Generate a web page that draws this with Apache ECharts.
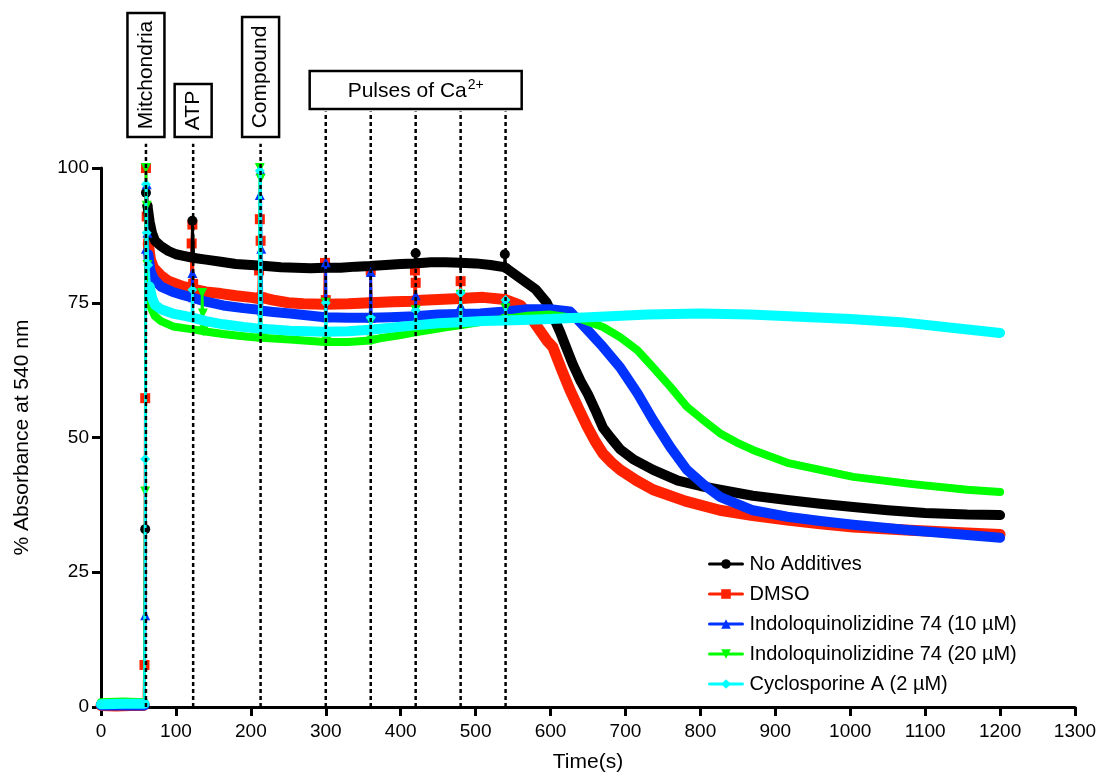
<!DOCTYPE html>
<html>
<head>
<meta charset="utf-8">
<script src="https://cdn.jsdelivr.net/npm/echarts@6/dist/echarts.min.js"></script>
<style>
html, body { margin: 0; padding: 0; background: #fff; }
#chart { width: 1098px; height: 776px; }
</style>
</head>
<body>
<div id="chart"></div>
<script>
//--------------------------------
// Data  ([time (s), % absorbance])
//--------------------------------
const noAdditives = [[0,0.5],[20,0.6],[40,0.5],[58,0.5],[59,33],[60,95.4],[61,96],[62,93],[65,90],[68,88],[72,86.5],[80,85.5],[90,84.6],[100,84],[110,83.7],[121,83.4],[122,90.2],[124,83.3],[140,83],[160,82.6],[180,82.2],[200,82],[220,81.8],[240,81.6],[260,81.5],[280,81.4],[299,81.5],[300,82.5],[301,81.5],[320,81.5],[340,81.7],[359,81.8],[360,81],[361,81.9],[380,82],[400,82.2],[419,82.3],[420,84.2],[421,82.4],[440,82.5],[460,82.5],[479,82.4],[480,81.1],[481,82.4],[500,82.3],[520,82],[538,81.6],[539,84],[541,81.4],[560,79.5],[580,77.5],[595,75],[605,72],[613,69.5],[620,67],[630,63.5],[640,60.5],[650,58],[660,55],[670,51.8],[680,50],[693,47.8],[710,46],[737,44],[770,42],[800,41],[826,40.3],[870,39.2],[916,38.4],[960,37.7],[1004,37.1],[1050,36.5],[1100,36],[1156,35.7],[1200,35.6]];

const dmso = [[0,0.3],[20,0.2],[40,0.3],[57,0.3],[58,7.8],[59,57.3],[60,100],[61,91],[63,86],[66,83],[70,81.5],[80,80],[90,79],[100,78.5],[110,78],[120,77.7],[121,86],[122,89.5],[123,78.5],[124,77.5],[140,77],[160,76.7],[180,76.3],[200,76],[210,75.8],[211,81],[212,90.5],[213,86.5],[214,76],[230,75.5],[250,75],[270,74.8],[298,74.7],[299,82.4],[300,75.5],[301,74.7],[330,74.8],[359,75],[360,81],[361,75],[390,75.2],[418,75.3],[419,81],[420,78.7],[421,75.4],[450,75.6],[479,75.8],[480,79],[481,75.8],[510,76],[539,75.6],[540,76.8],[541,75.4],[560,74.5],[573,72.4],[585,70],[595,68],[603,66.8],[615,62.5],[626,58.8],[638,55.2],[649,52],[660,49.2],[670,47],[682,45.3],[693,44],[715,42],[737,40.3],[780,38.2],[826,36.5],[870,35.5],[916,34.7],[960,34],[1004,33.4],[1080,32.8],[1156,32.3],[1200,32]];

const indolo10 = [[0,0.3],[30,0.3],[58,0.3],[59,17],[60,85],[61,97],[62,88],[63,84],[66,81],[70,79.5],[80,78],[96,77],[110,76.4],[121,76],[122,80.5],[123,76],[140,75.2],[163,74.5],[190,74],[211,73.7],[212,95],[213,99.6],[214,85],[215,73.5],[230,73.3],[252,73],[280,72.6],[299,72.3],[300,82.5],[301,72.3],[330,72.2],[359,72.2],[360,80.7],[361,72.2],[386,72.3],[419,72.5],[420,76.4],[421,72.6],[450,72.8],[479,72.9],[480,74.5],[481,73],[506,73],[539,73.4],[540,75.5],[541,73.5],[570,73.8],[600,73.8],[626,73.4],[649,70],[670,66.8],[693,63],[716,58.2],[737,53.2],[760,48.2],[782,44],[805,41.2],[826,39],[870,36.5],[916,35.3],[960,34.5],[1004,33.8],[1080,32.8],[1156,31.9],[1200,31.4]];

const indolo20 = [[0,0.9],[30,1],[58,0.9],[59,40],[60,100],[61,93],[62,82],[64,77],[67,74],[72,72.5],[80,71.6],[96,70.6],[120,70.1],[134,69.8],[135,76.8],[136,73],[137,69.7],[163,69.2],[190,68.8],[211,68.5],[212,100],[213,98],[214,68.5],[252,68.2],[299,67.7],[300,75],[301,67.8],[330,67.7],[359,68],[360,71.5],[361,68],[372,68.4],[400,69],[419,69.5],[420,73.6],[421,69.6],[440,70],[462,70.5],[479,70.8],[480,76.5],[481,70.9],[510,71.5],[539,72],[540,74],[541,72],[570,72.6],[600,72.8],[640,72],[670,70.5],[693,68.6],[716,66.2],[737,63],[760,59.4],[782,55.7],[804,53.2],[826,50.8],[848,49.1],[870,47.7],[916,45.3],[960,44],[1004,42.7],[1080,41.4],[1156,40.3],[1200,39.9]];

const cyclosporine = [[0,0.5],[30,0.6],[58,0.6],[59,46],[60,97],[61,88],[63,82],[65,78],[68,76],[72,74.6],[80,73.8],[96,73],[110,72.6],[121,72.3],[122,77.4],[123,72.2],[140,71.6],[163,71],[190,70.5],[211,70.2],[212,99.5],[213,99],[214,70.2],[252,69.8],[299,69.6],[300,75],[301,69.6],[330,69.7],[359,70],[360,72.2],[361,70],[390,70.4],[419,70.8],[420,73.6],[421,70.8],[450,71.2],[479,71.4],[480,76.8],[481,71.5],[510,71.6],[539,71.7],[540,75.5],[541,71.7],[560,71.8],[600,72],[666,72.4],[730,72.8],[800,73],[866,72.8],[933,72.4],[1000,72],[1067,71.4],[1120,70.6],[1160,70],[1200,69.4]];

const seriesNames = ['No Additives', 'DMSO', 'Indoloquinolizidine 74 (10 µM)', 'Indoloquinolizidine 74 (20 µM)', 'Cyclosporine A (2 µM)'];
const additionTimes = [60, 123, 213];            // mitochondria, ATP, compound
const pulseTimes = [300, 360, 420, 480, 540];    // Ca2+ pulses
const xTicks = { min: 0, max: 1300, step: 100 };
const yTicks = { min: 0, max: 100, step: 25 };

//--------------------------------
// Helpers
//--------------------------------
const FONT = '"Liberation Sans", Arial, sans-serif';

// a point is part of an injection spike when it jumps away from the point just before it
const isSpike = (data, i) => {
    let prev = data[i - 1];
    return !!prev && data[i][0] - prev[0] <= 2 && Math.abs(data[i][1] - prev[1]) > 1.5;
};

// thick band = trace without the tightly spaced spike clusters (first/last of a cluster kept),
// broken at the big jump after the injection
const bandOf = (data) => {
    let out = [];
    data.forEach((p, i) => {
        let prev = data[i - 1], next = data[i + 1];
        let inCluster = prev && next && p[0] - prev[0] <= 2 && next[0] - p[0] <= 2;
        if (inCluster) return;
        let last = out[out.length - 1];
        if (last && last !== '-' && Math.abs(p[1] - last[1]) > 20) out.push('-');
        out.push(p);
    });
    return out;
};

const makeSeries = (name, data, color, symbol, bandWidth, z, rotate) => [
    {
        name: name,
        type: 'line',
        data: bandOf(data),
        z: z,
        clip: false,
        showSymbol: false,
        symbol: symbol,
        symbolRotate: rotate || 0,
        connectNulls: false,
        lineStyle: { color: color, width: bandWidth, cap: 'round', join: 'round' },
        itemStyle: { color: color },
        emphasis: { disabled: true }
    },
    {
        name: name,
        type: 'line',
        data: data,
        z: z,
        clip: false,
        symbol: symbol,
        symbolRotate: rotate || 0,
        symbolSize: (val, params) => isSpike(data, params.dataIndex) ? 10 : 0,
        showAllSymbol: true,
        lineStyle: { color: color, width: 2.5 },
        itemStyle: { color: color },
        emphasis: { disabled: true }
    }
];

// dotted event lines, drawn through the axis scale and running above the plot
const eventLines = (times, top) => ({
    type: 'custom',
    data: times,
    z: 10,
    silent: true,
    clip: false,
    encode: { x: 0 },
    renderItem: (params, api) => {
        let t = api.value(0);
        let p0 = api.coord([t, 0]);
        let p1 = api.coord([t, top]);
        return {
            type: 'line',
            shape: { x1: p0[0], y1: p0[1], x2: p1[0], y2: p1[1] },
            style: { stroke: '#000', lineWidth: 2.5, lineDash: [4, 3] }
        };
    }
});

const chart = echarts.init(document.getElementById('chart'));

let options = {
    animation: false,
    textStyle: { fontFamily: FONT },
    grid: { left: 101, right: 23, top: 168, bottom: 69, outerBoundsMode: 'none' },
    legend: {
        orient: 'vertical',
        left: 703,
        top: 549,
        itemWidth: 33,
        itemHeight: 12,
        itemGap: 10,
        data: seriesNames,
        lineStyle: { width: 3 },
        textStyle: { fontSize: 20, color: '#000', fontFamily: FONT, padding: [0, 0, 0, 2] }
    },
    xAxis: {
        type: 'value',
        min: xTicks.min, max: xTicks.max, interval: xTicks.step,
        name: 'Time(s)', nameLocation: 'middle', nameGap: 45,
        nameTextStyle: { fontSize: 21, color: '#000' },
        axisLine: { show: true, lineStyle: { color: '#000', width: 3 } },
        axisTick: { show: true, length: 9, lineStyle: { color: '#000', width: 3 } },
        axisLabel: { fontSize: 19, color: '#000', margin: 15, formatter: v => String(v) },
        splitLine: { show: false }
    },
    yAxis: {
        type: 'value',
        min: yTicks.min, max: yTicks.max, interval: yTicks.step,
        name: '% Absorbance at 540 nm', nameLocation: 'middle', nameGap: 68,
        nameTextStyle: { fontSize: 21, color: '#000' },
        axisLine: { show: true, lineStyle: { color: '#000', width: 3 } },
        axisTick: { show: true, length: 9, lineStyle: { color: '#000', width: 3 } },
        axisLabel: { fontSize: 19, color: '#000', margin: 12, formatter: v => String(v) },
        splitLine: { show: false }
    },
    series: [].concat(
        makeSeries(seriesNames[1], dmso, '#ff2200', 'rect', 11, 2),
        makeSeries(seriesNames[0], noAdditives, '#000000', 'circle', 10, 3),
        makeSeries(seriesNames[2], indolo10, '#0033ff', 'triangle', 10, 4),
        makeSeries(seriesNames[3], indolo20, '#00ff00', 'triangle', 8, 5, 180),
        makeSeries(seriesNames[4], cyclosporine, '#00ffff', 'diamond', 10, 6),
        [eventLines(additionTimes, 104.5), eventLines(pulseTimes, 110.5)]
    )
};
chart.setOption(options);

//--------------------------------
// Annotation boxes above the plot
//--------------------------------
const px = t => chart.convertToPixel({ xAxisIndex: 0 }, t);

const vbox = (t, y0, y1, text) => {
    let x = px(t);
    return [
        { type: 'rect', shape: { x: x - 18.5, y: y0, width: 37, height: y1 - y0 },
          style: { fill: '#fff', stroke: '#000', lineWidth: 2.5 } },
        { type: 'text', x: x, y: (y0 + y1) / 2, rotation: Math.PI / 2,
          style: { text: text, font: '21px ' + FONT, fill: '#000', align: 'center', verticalAlign: 'middle' } }
    ];
};

let pulseX = px(420);
let graphics = []
    .concat(vbox(additionTimes[0], 13, 137, 'Mitchondria'))
    .concat(vbox(additionTimes[1], 84, 137, 'ATP'))
    .concat(vbox(additionTimes[2], 17, 137, 'Compound'))
    .concat([
        { type: 'rect', shape: { x: pulseX - 106, y: 71, width: 212, height: 38 },
          style: { fill: '#fff', stroke: '#000', lineWidth: 2.5 } },
        { type: 'text', x: pulseX, y: 91,
          style: {
              text: '{a|Pulses of Ca}{s|2+}', align: 'center', verticalAlign: 'middle',
              rich: {
                  a: { fontSize: 21, fontFamily: FONT, fill: '#000' },
                  s: { fontSize: 14, fontFamily: FONT, fill: '#000', padding: [0, 0, 12, 1] }
              }
          } }
    ]);

chart.setOption({ graphic: graphics });
</script>
</body>
</html>
